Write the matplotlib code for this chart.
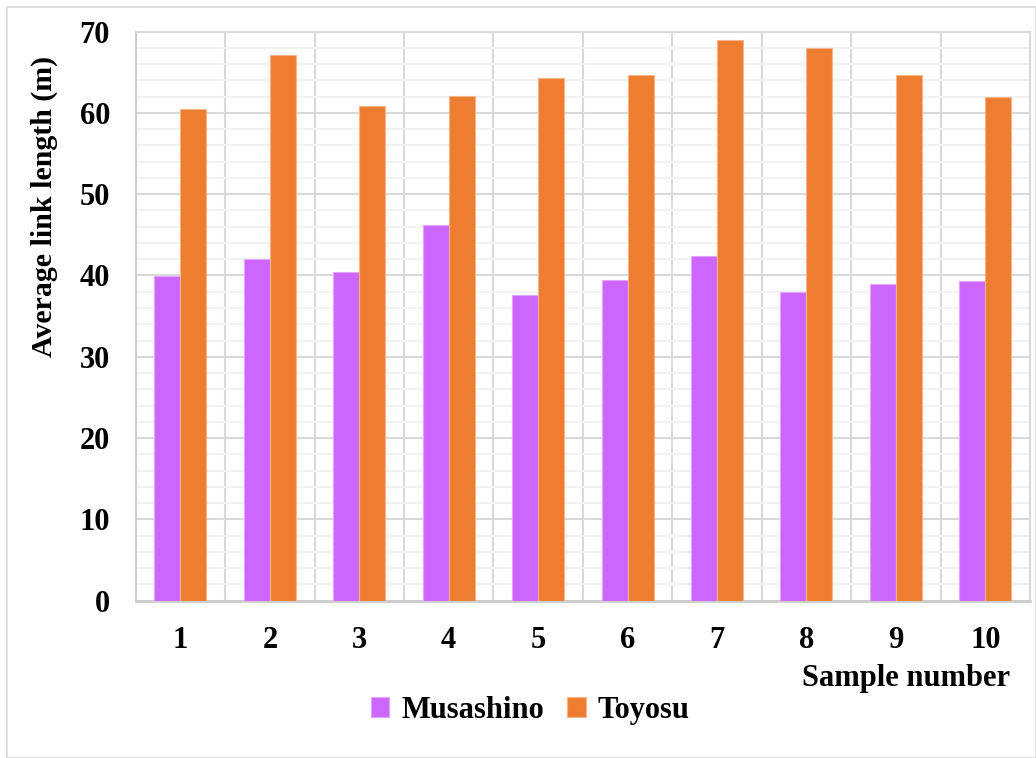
import matplotlib.pyplot as plt
from matplotlib.ticker import MultipleLocator
from matplotlib.patches import Rectangle
import numpy as np

samples = [1, 2, 3, 4, 5, 6, 7, 8, 9, 10]
musashino = [39.9, 42.0, 40.4, 46.2, 37.6, 39.4, 42.4, 38.0, 39.0, 39.3]
toyosu = [60.5, 67.1, 60.9, 62.1, 64.3, 64.7, 69.0, 68.0, 64.6, 61.9]
series_names = ["Musashino", "Toyosu"]

purple = "#CC66FF"
orange = "#ED7D31"
major_grid = "#D9D9D9"
minor_grid = "#F2F2F2"

plt.rcParams["font.family"] = ["Liberation Serif", "DejaVu Serif"]
plt.rcParams["font.weight"] = "bold"

fig = plt.figure(figsize=(10.36, 7.58), dpi=100)
ax = fig.add_axes([0.131, 0.2075, 0.8632, 0.7509])

x = np.array(samples, dtype=float)
w = 0.29
b1 = ax.bar(x - w / 2, musashino, width=w, color=purple, edgecolor="#E3A6FF",
            linewidth=0.8, label=series_names[0], zorder=3)
b2 = ax.bar(x + w / 2, toyosu, width=w, color=orange, edgecolor="#F5B48A",
            linewidth=0.8, label=series_names[1], zorder=3)

ax.set_xlim(0.5, len(samples) + 0.5)
ax.set_ylim(0, 70)
ax.yaxis.set_major_locator(MultipleLocator(10))
ax.yaxis.set_minor_locator(MultipleLocator(2))
ax.set_xticks(x)
ax.set_xticklabels([str(s) for s in samples])

# horizontal grid: major every 10, minor every 2
ax.grid(which="major", axis="y", color=major_grid, linewidth=1.5, zorder=1)
ax.grid(which="minor", axis="y", color=minor_grid, linewidth=1.5, zorder=0)
# vertical lines between categories
for b in np.arange(1.5, len(samples), 1.0):
    ax.axvline(b, color=major_grid, linewidth=1.5, zorder=1)

for side in ["left", "bottom", "top", "right"]:
    ax.spines[side].set_color(major_grid)
    ax.spines[side].set_linewidth(1.5)
ax.spines["left"].set_color("#CCCCCC")
ax.spines["bottom"].set_color("#CCCCCC")
ax.spines["bottom"].set_linewidth(2)

ax.tick_params(axis="both", which="both", length=0)
ax.tick_params(axis="y", pad=18.5, labelsize=22)
ax.tick_params(axis="x", pad=18, labelsize=22)
for lab in ax.get_xticklabels() + ax.get_yticklabels():
    lab.set_fontweight("bold")

fig.text(0.0425, 0.727, "Average link length (m)", rotation=90, ha="center",
         va="center", fontsize=21.5, fontweight="bold")
fig.text(0.975, 0.105, "Sample number", ha="right", va="center",
         fontsize=22, fontweight="bold")

fig.legend(handles=[b1, b2], labels=series_names, loc="center",
           bbox_to_anchor=(0.512, 0.063), ncol=2, frameon=False,
           prop={"size": 22, "weight": "bold"}, handlelength=0.6,
           handleheight=0.6, handletextpad=0.4, columnspacing=0.75)

# light frame around the chart
fig.patches.append(Rectangle((0.0068, 0.0), 0.993, 0.9908, transform=fig.transFigure,
                             fill=False, edgecolor="#D9D9D9", linewidth=1.2))

fig.savefig("out.png", dpi=100)
